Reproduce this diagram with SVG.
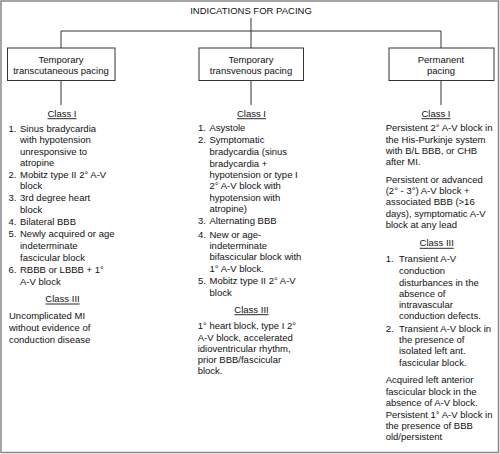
<svg xmlns="http://www.w3.org/2000/svg" width="500" height="454" viewBox="0 0 500 454">
<style>
text{font-family:"Liberation Sans",Arial,sans-serif;font-size:9.5px;fill:#111}
.c{text-anchor:middle}
.box{fill:#fff;stroke:#333;stroke-width:1}
.ln{stroke:#333;stroke-width:1;fill:none}
.ul{stroke:#111;stroke-width:0.9}
</style>
<rect x="1" y="1" width="497.5" height="451.5" fill="#fff" stroke="#888" stroke-width="1.5"/>
<text id="title" class="c" x="251" y="14.1">INDICATIONS FOR PACING</text>
<g id="connectors" class="ln">
<path d="M251,18V31M61,31H441M61,31V48M251,31V48M441,31V48M61,80.5V105M251,80.5V105M441,80.5V105"/>
</g>
<g id="node-transcutaneous">
<rect class="box" x="7.5" y="48" width="107.5" height="32.5"/>
<text class="c" x="61" y="62.7">Temporary</text>
<text class="c" x="61" y="74.1">transcutaneous pacing</text>
</g>
<g id="node-transvenous">
<rect class="box" x="199" y="48" width="104.5" height="32.5"/>
<text class="c" x="251" y="62.7">Temporary</text>
<text class="c" x="251" y="74.1">transvenous pacing</text>
</g>
<g id="node-permanent">
<rect class="box" x="389" y="48" width="105" height="32.5"/>
<text class="c" x="441" y="62.7">Permanent</text>
<text class="c" x="441" y="74.1">pacing</text>
</g>
<g id="col-left">
<text class="c" x="62" y="116.7">Class I</text>
<line class="ul" x1="47.5" y1="118.7" x2="76.5" y2="118.7"/>
<text x="8.5" y="131.5">1.</text>
<text x="20" y="131.5">Sinus bradycardia</text>
<text x="20" y="143">with hypotension</text>
<text x="20" y="154.5">unresponsive to</text>
<text x="20" y="166">atropine</text>
<text x="8.5" y="177.5">2.</text>
<text x="20" y="177.5">Mobitz type II 2° A-V</text>
<text x="20" y="189">block</text>
<text x="8.5" y="201">3.</text>
<text x="20" y="201">3rd degree heart</text>
<text x="20" y="212.5">block</text>
<text x="8.5" y="224.8">4.</text>
<text x="20" y="224.8">Bilateral BBB</text>
<text x="8.5" y="237">5.</text>
<text x="20" y="237">Newly acquired or age</text>
<text x="20" y="248.8">indeterminate</text>
<text x="20" y="260.5">fascicular block</text>
<text x="8.5" y="273">6.</text>
<text x="20" y="273">RBBB or LBBB + 1°</text>
<text x="20" y="284.8">A-V block</text>
<text class="c" x="62.5" y="301.7">Class III</text>
<line class="ul" x1="45.5" y1="304" x2="79.5" y2="304"/>
<text x="9" y="319">Uncomplicated MI</text>
<text x="9" y="331">without evidence of</text>
<text x="9" y="342.5">conduction disease</text>
</g>
<g id="col-middle">
<text class="c" x="251.5" y="116.7">Class I</text>
<line class="ul" x1="237" y1="118.7" x2="266" y2="118.7"/>
<text x="198" y="131">1.</text>
<text x="209.5" y="131">Asystole</text>
<text x="198" y="143.4">2.</text>
<text x="209.5" y="143.4">Symptomatic</text>
<text x="209.5" y="155">bradycardia (sinus</text>
<text x="209.5" y="166.5">bradycardia +</text>
<text x="209.5" y="177.8">hypotension or type I</text>
<text x="209.5" y="189.4">2° A-V block with</text>
<text x="209.5" y="200.7">hypotension with</text>
<text x="209.5" y="211.8">atropine)</text>
<text x="198" y="224.4">3.</text>
<text x="209.5" y="224.4">Alternating BBB</text>
<text x="198" y="237.5">4.</text>
<text x="209.5" y="237.5">New or age-</text>
<text x="209.5" y="248.5">indeterminate</text>
<text x="209.5" y="260">bifascicular block with</text>
<text x="209.5" y="271.7">1° A-V block.</text>
<text x="198" y="284">5.</text>
<text x="209.5" y="284">Mobitz type II 2° A-V</text>
<text x="209.5" y="295.7">block</text>
<text class="c" x="251.5" y="312.7">Class III</text>
<line class="ul" x1="234.5" y1="314.7" x2="268.5" y2="314.7"/>
<text x="197.7" y="329">1° heart block, type I 2°</text>
<text x="197.7" y="340.7">A-V block, accelerated</text>
<text x="197.7" y="352.4">idioventricular rhythm,</text>
<text x="197.7" y="363.4">prior BBB/fascicular</text>
<text x="197.7" y="374.4">block.</text>
</g>
<g id="col-right">
<text class="c" x="436" y="116.7">Class I</text>
<line class="ul" x1="421.5" y1="118.7" x2="450.5" y2="118.7"/>
<text x="385.7" y="131">Persistent 2° A-V block in</text>
<text x="385.7" y="142.5">the His-Purkinje system</text>
<text x="385.7" y="154">with B/L BBB, or CHB</text>
<text x="385.7" y="165">after MI.</text>
<text x="385.7" y="182.7">Persistent or advanced</text>
<text x="385.7" y="194">(2° - 3°) A-V block +</text>
<text x="385.7" y="205">associated BBB (&gt;16</text>
<text x="385.7" y="216.7">days), symptomatic A-V</text>
<text x="385.7" y="228.4">block at any lead</text>
<text class="c" x="436.7" y="246">Class III</text>
<line class="ul" x1="419.7" y1="248.3" x2="453.7" y2="248.3"/>
<text x="385.7" y="262.4">1.</text>
<text x="399" y="262.4">Transient A-V</text>
<text x="399" y="274.4">conduction</text>
<text x="399" y="285.7">disturbances in the</text>
<text x="399" y="296.7">absence of</text>
<text x="399" y="308.4">intravascular</text>
<text x="399" y="319.4">conduction defects.</text>
<text x="385.7" y="331.7">2.</text>
<text x="399" y="331.7">Transient A-V block in</text>
<text x="399" y="343.4">the presence of</text>
<text x="399" y="354.4">isolated left ant.</text>
<text x="399" y="365.7">fascicular block.</text>
<text x="385.7" y="383.4">Acquired left anterior</text>
<text x="385.7" y="395">fascicular block in the</text>
<text x="385.7" y="406">absence of A-V block.</text>
<text x="385.7" y="417.7">Persistent 1° A-V block in</text>
<text x="385.7" y="429.4">the presence of BBB</text>
<text x="385.7" y="440">old/persistent</text>
</g>
</svg>
